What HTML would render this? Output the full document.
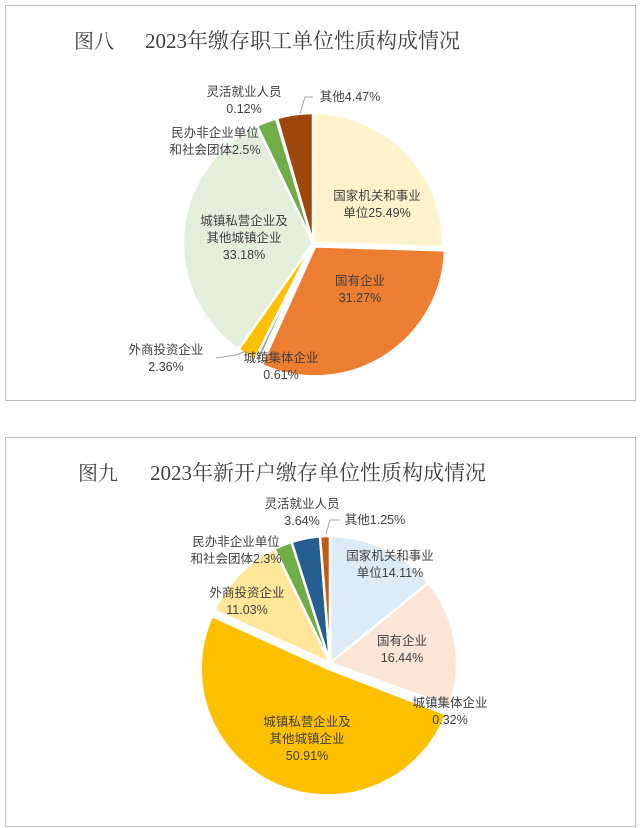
<!DOCTYPE html>
<html><head><meta charset="utf-8"><style>
body{margin:0;width:640px;height:828px;background:#fff;position:relative;overflow:hidden;font-family:"Liberation Serif","Noto Serif CJK SC",serif}
.box{position:absolute;border:1px solid #bfbfbf;background:#fff}
svg{position:absolute;left:0;top:0}
.t{font-family:"Liberation Serif","Noto Serif CJK SC",serif;fill:#404040}
.l{font-family:"Liberation Sans","Noto Sans CJK SC",sans-serif;font-size:12.5px;fill:#404040}
</style></head><body>
<div class="box" style="left:5px;top:5px;width:629px;height:394px"></div>
<div class="box" style="left:5px;top:437px;width:629px;height:388px"></div>
<svg id="s" width="640" height="828">
<text class="t" x="74" y="48" font-size="20">图八</text>
<text class="t" x="145" y="48" font-size="21">2023年缴存职工单位性质构成情况</text>
<text class="t" x="78" y="480" font-size="20">图九</text>
<text class="t" x="150" y="480" font-size="21">2023年新开户缴存单位性质构成情况</text>
</svg>
<script>
const cats1=["国家机关和事业单位","国有企业","城镇集体企业","外商投资企业","城镇私营企业及其他城镇企业","民办非企业单位和社会团体","灵活就业人员","其他"];
const vals1=[25.49,31.27,0.61,2.36,33.18,2.5,0.12,4.47];
const cols1=["#FFF2CC","#ED7D31","#A5A5A5","#FFC000","#E2EFDA","#70AD47","#5B9BD5","#9E480E"];
const vals2=[14.11,16.44,0.32,50.91,11.03,2.3,3.64,1.25];
const cols2=["#DDEBF7","#FBE5D6","#A5A5A5","#FFC000","#FFE699","#70AD47","#255E91","#C55A11"];
const expl1=[0,4,0,0,0,0,0,0];
const expl2=[0,0,0,6,0,0,0,0];
const NS="http://www.w3.org/2000/svg";
const svg=document.getElementById('s');
function pie(vals,cols,expl,cx,cy,r,name){
  const tot=vals.reduce((a,b)=>a+b,0);let a0=0;
  vals.forEach((v,i)=>{
    const a1=a0+v/tot*2*Math.PI,mid=(a0+a1)/2;
    const dx=expl[i]*Math.sin(mid),dy=-expl[i]*Math.cos(mid);
    const x0=cx+dx+r*Math.sin(a0),y0=cy+dy-r*Math.cos(a0),x1=cx+dx+r*Math.sin(a1),y1=cy+dy-r*Math.cos(a1);
    const p=document.createElementNS(NS,'path');
    p.setAttribute('d',`M${cx+dx},${cy+dy}L${x0},${y0}A${r},${r} 0 ${a1-a0>Math.PI?1:0} 1 ${x1},${y1}Z`);
    p.setAttribute('fill',cols[i]);p.setAttribute('stroke','#fff');p.setAttribute('stroke-width','2.5');
    
    
    svg.appendChild(p);a0=a1;
  });
}
pie(vals1,cols1,expl1,313,243,130,'chart-8');
pie(vals2,cols2,expl2,330,663,127,'chart-9');
function lab(x,y,lines,name){
  const t=document.createElementNS(NS,'text');t.setAttribute('class','l');t.setAttribute('text-anchor','middle');
  
  
  lines.forEach((s,i)=>{const sp=document.createElementNS(NS,'tspan');sp.setAttribute('x',x);sp.setAttribute('y',y+i*17);sp.textContent=s;t.appendChild(sp);});
  svg.appendChild(t);
}
function line(pts,name){const p=document.createElementNS(NS,'polyline');p.setAttribute('points',pts);p.setAttribute('fill','none');p.setAttribute('stroke','#a6a6a6');


svg.appendChild(p);}
lab(377,200,["国家机关和事业","单位"+vals1[0]+"%"],'label-8-gov');
lab(360,285,["国有企业",vals1[1]+"%"],'label-8-soe');
lab(281,362,["城镇集体企业",vals1[2]+"%"],'label-8-collective');
lab(166,354,["外商投资企业",vals1[3]+"%"],'label-8-foreign');
lab(244,225,["城镇私营企业及","其他城镇企业",vals1[4]+"%"],'label-8-private');
lab(215,137,["民办非企业单位","和社会团体"+vals1[5]+"%"],'label-8-nonprofit');
lab(244,96,["灵活就业人员",vals1[6]+"%"],'label-8-flexible');
lab(350,101,["其他"+vals1[7]+"%"],'label-8-other');
line("300,114 305,97 313,97",'leader-8-other');
line("216,358 236,355 246,351",'leader-8-foreign');
lab(390,560,["国家机关和事业","单位"+vals2[0]+"%"],'label-9-gov');
lab(402,645,["国有企业",vals2[1]+"%"],'label-9-soe');
lab(450,707,["城镇集体企业",vals2[2]+"%"],'label-9-collective');
lab(247,597,["外商投资企业",vals2[4]+"%"],'label-9-foreign');
lab(307,726,["城镇私营企业及","其他城镇企业",vals2[3]+"%"],'label-9-private');
lab(236,546,["民办非企业单位","和社会团体"+vals2[5]+"%"],'label-9-nonprofit');
lab(302,508,["灵活就业人员",vals2[6]+"%"],'label-9-flexible');
lab(375,524,["其他"+vals2[7]+"%"],'label-9-other');
line("326,534 330,520 340,520",'leader-9-other');
</script>
</body></html>
